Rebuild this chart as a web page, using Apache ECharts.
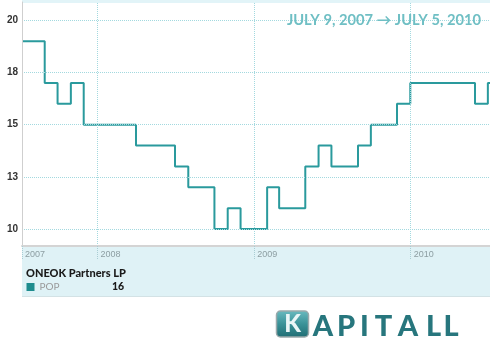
<!DOCTYPE html>
<html>
<head>
<meta charset="utf-8">
<script src="https://cdn.jsdelivr.net/npm/echarts@6/dist/echarts.min.js"></script>
<style>html,body{margin:0;padding:0;background:#fff}#c{width:490px;height:350px}</style>
</head>
<body>
<div id="c"></div>
<script>
// Data (monthly step values, ONEOK Partners LP)
var dates = ['2007-07-09','2007-08-31','2007-09-30','2007-10-31','2007-11-30','2008-03-31','2008-06-30','2008-07-31','2008-09-30','2008-10-31','2008-11-30','2009-01-31','2009-02-28','2009-04-30','2009-05-31','2009-06-30','2009-08-31','2009-09-30','2009-11-30','2009-12-31','2010-05-31','2010-06-30','2010-07-05'];
var values = [19,17,16,17,15,14,13,12,10,11,10,12,11,13,14,13,14,15,16,17,16,17,17];
var yTicks = [10,12.5,15,17.5,20];
var xTicks = ['2007-07-09','2008-01-01','2009-01-01','2010-01-01'];
var xGrid = ['2008-01-01','2009-01-01','2010-01-01'];
var startDate = '2007-07-09', endDate = '2010-07-05';
var titleText = 'JULY 9, 2007 \u2192 JULY 5, 2010';
var companyName = 'ONEOK Partners LP';
var seriesName = 'POP';
var seriesValue = '16';

function ts(d){ return new Date(d + 'T00:00:00Z').getTime(); }
var data = dates.map(function(d,i){ return [ts(d), values[i]]; });

var chart = echarts.init(document.getElementById('c'));
var gridColor = '#a3d9df';
var option = {
  animation: false,
  grid: {left: 22, right: 0, top: 2, bottom: 104},
  xAxis: {
    type: 'value',
    min: ts(startDate), max: ts(endDate),
    z: 5,
    axisLine: {show: true, lineStyle: {color: '#d4d4d4', width: 2}},
    axisTick: {show: true, customValues: xTicks.map(ts), length: 14, lineStyle: {color: '#a9cdd3', type: 'dotted', width: 1}},
    axisLabel: {
      customValues: xTicks.map(ts),
      formatter: function(v){ return String(new Date(v).getUTCFullYear()); },
      align: 'left', padding: [0,0,0,3], margin: 4,
      fontFamily: 'Liberation Sans', fontSize: 9, color: '#8d9ea2'
    },
    splitLine: {show: false}
  },
  yAxis: {
    type: 'value',
    min: 9.185, max: 20.88,
    z: 5,
    axisLine: {show: true, lineStyle: {color: '#cfcfcf', width: 1}},
    axisTick: {show: false},
    axisLabel: {
      customValues: yTicks,
      formatter: function(v){ return String(Math.round(v)); },
      margin: 4, fontFamily: 'Liberation Sans', fontSize: 10, fontWeight: 'bold', color: '#333'
    },
    splitLine: {show: false}
  },
  series: [
    {
      type: 'line', name: 'grid', z: 1, silent: true,
      data: data, showSymbol: false, lineStyle: {opacity: 0},
      markLine: {
        silent: true, symbol: ['none','none'], label: {show: false},
        lineStyle: {color: gridColor, type: 'dotted', width: 1},
        data: yTicks.map(function(v){ return {yAxis: v}; }).concat(xGrid.map(function(d){ return {xAxis: ts(d)}; }))
      }
    },
    {
      type: 'line', name: seriesName, z: 3, step: 'end',
      data: data, showSymbol: false,
      lineStyle: {color: '#2a9a9d', width: 2}
    }
  ],
  graphic: [
    {type: 'rect', z: -1, shape: {x: 22, y: 0, width: 468, height: 3}, style: {fill: '#e2f4f8'}},
    {type: 'rect', z: -1, shape: {x: 22, y: 247, width: 468, height: 50}, style: {fill: '#dff2f6'}},
    {type: 'rect', z: -1, shape: {x: 22, y: 296, width: 468, height: 1}, style: {fill: '#d3e2e5'}},
    {type: 'text', z: 10, x: 481, y: 20, style: {text: titleText, align: 'right', verticalAlign: 'middle', fill: '#6fbfc4', font: 'bold 14.7px Lato'}},
    {type: 'text', z: 10, x: 26, y: 273, style: {text: companyName, verticalAlign: 'middle', fill: '#1a1a1a', font: '900 11px Lato'}},
    {type: 'rect', z: 10, shape: {x: 26.5, y: 283, width: 8, height: 8}, style: {fill: '#1e8c8e'}},
    {type: 'text', z: 10, x: 39.5, y: 287, style: {text: seriesName, verticalAlign: 'middle', fill: '#9a9a9a', font: '10px Lato'}},
    {type: 'text', z: 10, x: 112, y: 287, style: {text: seriesValue, verticalAlign: 'middle', fill: '#1a1a1a', font: '900 10.5px Lato'}},
    {type: 'rect', z: 10, shape: {x: 276.5, y: 311, width: 32, height: 26, r: 4},
      style: {fill: new echarts.graphic.LinearGradient(0,0,0,1,[{offset:0,color:'#6cbcc1'},{offset:0.5,color:'#3a9298'},{offset:1,color:'#1f6c72'}]), stroke: '#9aa9ab', lineWidth: 1.5}},
    {type: 'text', z: 11, x: 292.5, y: 324.5, style: {text: 'K', align: 'center', verticalAlign: 'middle', fill: '#eaf6f7', font: '900 24px Lato'}},
    {type: 'text', z: 10, x: 323, y: 327, style: {text: 'A', align: 'center', verticalAlign: 'middle', fill: '#27767d', font: '900 29px Lato'}},
    {type: 'text', z: 10, x: 346, y: 327, style: {text: 'P', align: 'center', verticalAlign: 'middle', fill: '#27767d', font: '900 29px Lato'}},
    {type: 'text', z: 10, x: 364.5, y: 327, style: {text: 'I', align: 'center', verticalAlign: 'middle', fill: '#27767d', font: '900 29px Lato'}},
    {type: 'text', z: 10, x: 383.5, y: 327, style: {text: 'T', align: 'center', verticalAlign: 'middle', fill: '#27767d', font: '900 29px Lato'}},
    {type: 'text', z: 10, x: 408, y: 327, style: {text: 'A', align: 'center', verticalAlign: 'middle', fill: '#27767d', font: '900 29px Lato'}},
    {type: 'text', z: 10, x: 433.5, y: 327, style: {text: 'L', align: 'center', verticalAlign: 'middle', fill: '#27767d', font: '900 29px Lato'}},
    {type: 'text', z: 10, x: 451, y: 327, style: {text: 'L', align: 'center', verticalAlign: 'middle', fill: '#27767d', font: '900 29px Lato'}}
  ]
};
chart.setOption(option);
</script>
</body>
</html>
